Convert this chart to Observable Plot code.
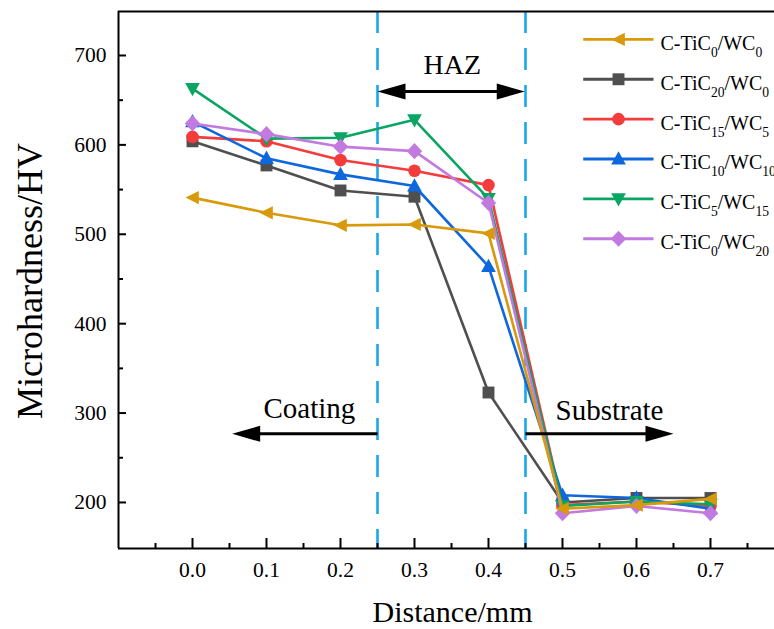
<!DOCTYPE html>
<html><head><meta charset="utf-8">
<script src="https://cdn.jsdelivr.net/npm/d3@7"></script>
<script src="https://cdn.jsdelivr.net/npm/@observablehq/plot@0.6"></script>
<style>html,body{margin:0;padding:0;background:#fff}</style>
</head><body><div id="chart"></div>
<script>
// ---- data ----
const distance = [0, 0.1, 0.2, 0.3, 0.4, 0.5, 0.6, 0.7];
const ticContent = [0, 20, 15, 10, 5, 0];
const wcContent  = [0, 0, 5, 10, 15, 20];
const hvTiC0WC0   = [541, 524, 510, 511, 501, 193, 197, 204];
const hvTiC20WC0  = [604, 577, 549, 542, 323, 200, 205, 205];
const hvTiC15WC5  = [609, 604, 583, 571, 555, 197, 201, 196];
const hvTiC10WC10 = [626, 585, 567, 554, 464, 208, 205, 193];
const hvTiC5WC15  = [663, 607, 608, 628, 540, 196, 201, 198];
const hvTiC0WC20  = [624, 612, 598, 593, 535, 188, 196, 188];
const seriesValues = [hvTiC0WC0, hvTiC20WC0, hvTiC15WC5, hvTiC10WC10, hvTiC5WC15, hvTiC0WC20];
const seriesColors = ["#d8990a", "#4f4f4f", "#f53c3c", "#0e67dd", "#0aa562", "#c27ae0"];
const xTicks = [0, 0.1, 0.2, 0.3, 0.4, 0.5, 0.6, 0.7];
const xMinor = [-0.05, 0.05, 0.15, 0.25, 0.35, 0.45, 0.55, 0.65, 0.75];
const yTicks = [200, 300, 400, 500, 600, 700];
const yMinor = [250, 350, 450, 550, 650];
const boundaries = [0.25, 0.45];

// ---- marker shapes ----
function poly(pts) {
  return {draw(ctx, size) {
    const r = Math.sqrt(size / Math.PI);
    ctx.moveTo(pts[0][0] * r, pts[0][1] * r);
    for (let i = 1; i < pts.length; ++i) ctx.lineTo(pts[i][0] * r, pts[i][1] * r);
    ctx.closePath();
  }};
}
const symLeft = poly([[-1, 0], [0.9, -0.95], [0.9, 0.95]]);
const symSquare = poly([[-0.85, -0.85], [0.85, -0.85], [0.85, 0.85], [-0.85, 0.85]]);
const symCircle = {draw(ctx, size) { const r = Math.sqrt(size / Math.PI) * 0.9; ctx.moveTo(r, 0); ctx.arc(0, 0, r, 0, 2 * Math.PI); }};
const symUp = poly([[0, -1.1], [1.05, 0.8], [-1.05, 0.8]]);
const symDown = poly([[0, 1.1], [1.05, -0.8], [-1.05, -0.8]]);
const symDiamond = poly([[0, -1.15], [1.1, 0], [0, 1.15], [-1.1, 0]]);
const seriesSymbols = [symLeft, symSquare, symCircle, symUp, symDown, symDiamond];
const headRight = poly([[0, 0], [-4, -1.15], [-4, 1.15]]);
const headLeft = poly([[0, 0], [4, -1.15], [4, 1.15]]);

const series = seriesValues.map((vals, i) => ({
  name: `C-TiC${ticContent[i]}/WC${wcContent[i]}`,
  color: seriesColors[i], symbol: seriesSymbols[i],
  points: distance.map((d, j) => ({x: d, y: vals[j]}))
}));
const drawOrder = [1, 2, 3, 4, 5, 0];

const xDomain = [-0.1, 0.7865];
const yDomain = [148.5, 749.2];

// legend layout (in data units)
const legX1 = 0.528, legX2 = 0.623, legXM = 0.5757, legXT = 0.6324, legTop = 718, legStep = 44.6;
const legend = series.map((s, i) => ({...s, y: legTop - i * legStep}));

const marks = [];
// boundaries
marks.push(Plot.ruleX(boundaries, {stroke: "#1aa7ec", strokeWidth: 2.6, strokeDasharray: "22,15"}));
// series
for (const i of drawOrder) {
  const s = series[i];
  marks.push(Plot.line(s.points, {x: "x", y: "y", stroke: s.color, strokeWidth: 2.6}));
  marks.push(Plot.dot(s.points, {x: "x", y: "y", fill: s.color, symbol: s.symbol, r: 7, stroke: "none"}));
}
// annotations: HAZ double arrow
marks.push(Plot.link([{a: 0.262, b: 0.438, y: 659.7}], {x1: "a", x2: "b", y1: "y", y2: "y", stroke: "black", strokeWidth: 3}));
marks.push(Plot.dot([{x: 0.25, y: 659.7}], {x: "x", y: "y", symbol: headLeft, r: 7, fill: "black"}));
marks.push(Plot.dot([{x: 0.449, y: 659.7}], {x: "x", y: "y", symbol: headRight, r: 7, fill: "black"}));
marks.push(Plot.text(["HAZ"], {x: 0.351, y: 689.6, fontSize: 28, lineAnchor: "middle", textAnchor: "middle", fill: "black"}));
// coating arrow
marks.push(Plot.link([{a: 0.25, b: 0.07, y: 276.8}], {x1: "a", x2: "b", y1: "y", y2: "y", stroke: "black", strokeWidth: 3}));
marks.push(Plot.dot([{x: 0.0536, y: 276.8}], {x: "x", y: "y", symbol: headLeft, r: 7, fill: "black"}));
marks.push(Plot.text(["Coating"], {x: 0.158, y: 304.8, fontSize: 29, lineAnchor: "middle", textAnchor: "middle", fill: "black"}));
// substrate arrow
marks.push(Plot.link([{a: 0.45, b: 0.63, y: 276.8}], {x1: "a", x2: "b", y1: "y", y2: "y", stroke: "black", strokeWidth: 3}));
marks.push(Plot.dot([{x: 0.65, y: 276.8}], {x: "x", y: "y", symbol: headRight, r: 7, fill: "black"}));
marks.push(Plot.text(["Substrate"], {x: 0.5635, y: 303, fontSize: 29, lineAnchor: "middle", textAnchor: "middle", fill: "black"}));
// legend
marks.push(Plot.link(legend, {x1: () => legX1, x2: () => legX2, y1: "y", y2: "y", stroke: "color", strokeWidth: 2.8}));
for (const s of legend) {
  marks.push(Plot.dot([s], {x: () => legXM, y: "y", fill: "color", symbol: s.symbol, r: 7, stroke: "none"}));
}
marks.push(Plot.text(legend, {x: () => legXT, y: "y", text: "name", textAnchor: "start", lineAnchor: "middle", dy: 4, fontSize: 20, fill: "black"}));
// axes frame
marks.push(Plot.ruleX([xDomain[0]], {stroke: "black", strokeWidth: 2}));
marks.push(Plot.ruleY([yDomain[0], yDomain[1]], {stroke: "black", strokeWidth: 2}));
marks.push(Plot.axisY(yTicks, {tickSize: -8, tickPadding: 20, fontSize: 21.5, strokeWidth: 2, label: null, tickFormat: d => String(d)}));
marks.push(Plot.axisY(yMinor, {tickSize: -5, strokeWidth: 2, label: null, tickFormat: () => ""}));
marks.push(Plot.axisX(xTicks, {tickSize: -10, tickPadding: 23, fontSize: 21.5, strokeWidth: 2, label: null, tickFormat: d => d.toFixed(1)}));
marks.push(Plot.axisX(xMinor, {tickSize: -5, strokeWidth: 2, label: null, tickFormat: () => ""}));
// axis titles
marks.push(Plot.text(["Distance/mm"], {frameAnchor: "bottom", dx: 6, dy: 64, fontSize: 30, lineAnchor: "middle", textAnchor: "middle", fill: "black"}));
marks.push(Plot.text(["Microhardness/HV"], {frameAnchor: "left", dx: -88, dy: 1, rotate: -90, fontSize: 36, lineAnchor: "middle", textAnchor: "middle", fill: "black"}));

const chart = Plot.plot({
  width: 774, height: 629,
  marginLeft: 118, marginRight: 0, marginTop: 11, marginBottom: 81,
  x: {domain: xDomain},
  y: {domain: yDomain},
  style: {fontFamily: "'Liberation Serif', 'Times New Roman', serif", background: "#fff", color: "black", overflow: "visible"},
  marks
});

// subscripts in legend labels
chart.querySelectorAll("text").forEach(t => {
  const m = /^C-TiC(\d+)\/WC(\d+)$/.exec(t.textContent);
  if (!m) return;
  t.textContent = "";
  const parts = [["C-TiC", 0, null], [m[1], 7, "68%"], ["/WC", -7, null], [m[2], 7, "68%"]];
  for (const [txt, dy, fs] of parts) {
    const ts = document.createElementNS("http://www.w3.org/2000/svg", "tspan");
    ts.textContent = txt;
    if (dy) ts.setAttribute("dy", dy);
    if (fs) ts.setAttribute("font-size", fs);
    t.appendChild(ts);
  }
});
document.getElementById("chart").appendChild(chart);
</script>
</body></html>
